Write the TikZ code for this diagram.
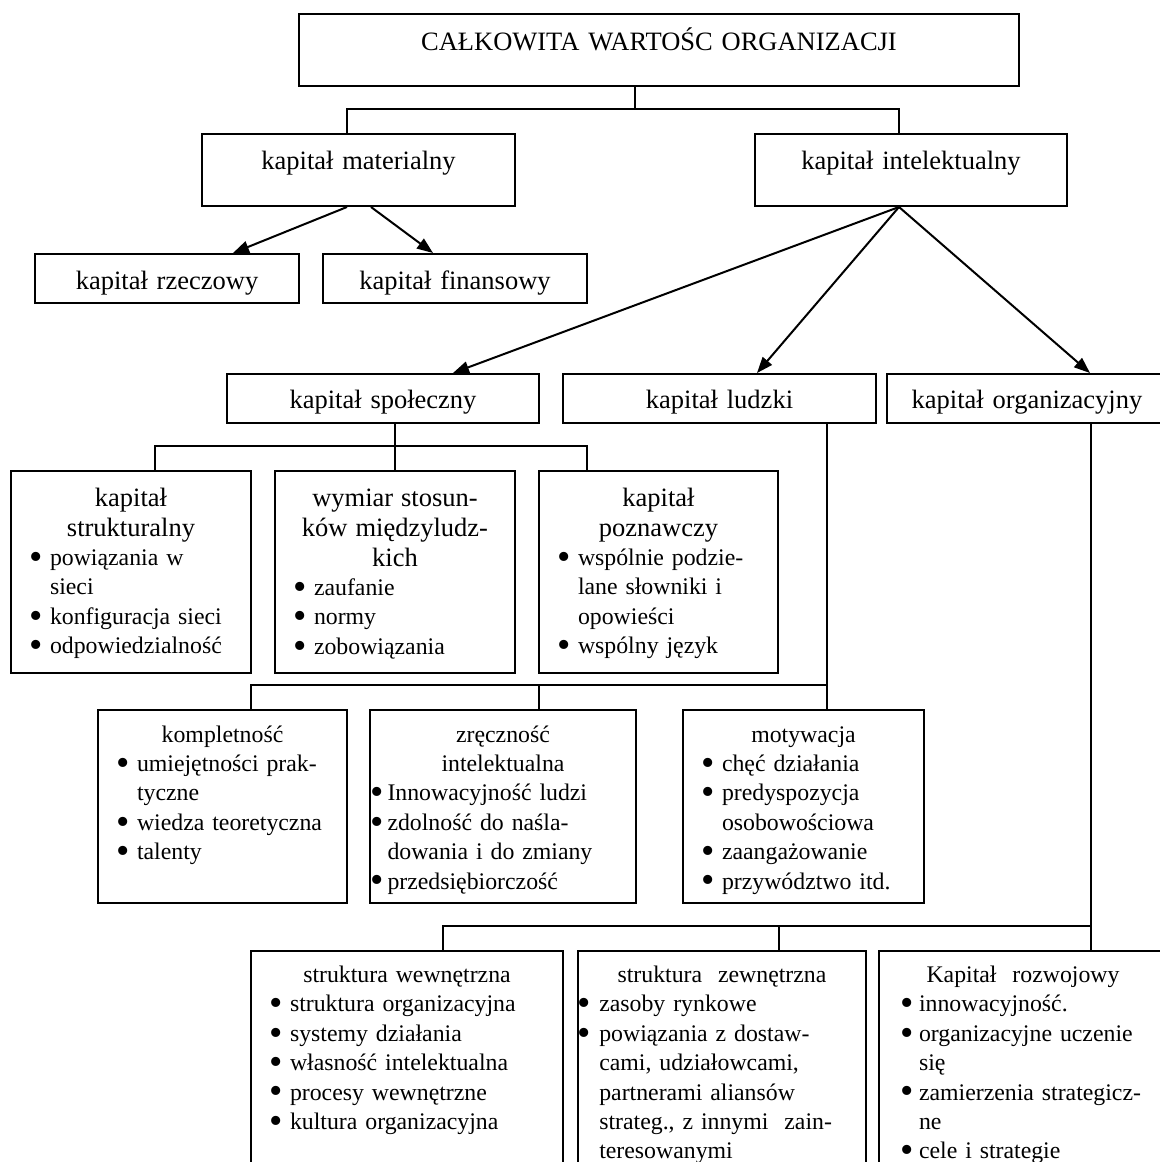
\documentclass[tikz,border=0pt]{standalone}
\usepackage{fontspec}
\setmainfont{Liberation Serif}
\usetikzlibrary{arrows.meta}

% two text sizes used in the chart
\newcommand{\duzy}{\fontsize{13.25pt}{15pt}\selectfont}
\newcommand{\maly}{\fontsize{11.9pt}{14.7pt}\selectfont}

% bullet item: bullet offset and hanging indent
\newlength\pktb \newlength\pktt
\setlength\pktb{9.3pt}\setlength\pktt{19.5pt}
\newcommand{\pkt}{\par\raggedright\hangindent=\pktt\hangafter=1\noindent
  \makebox[\pktt][l]{\hspace{\pktb}\raisebox{-0.16em}{\scalebox{1.6}{\textbullet}}}\ignorespaces}

\begin{document}
\begin{tikzpicture}[x=0.5pt,y=-0.5pt,
    box/.style={draw,line width=1pt,inner sep=0pt,anchor=north,font=\maly,
      text height=16pt,execute at begin node=\centering},
    duzy/.style={font=\duzy,text height=17.5pt},
    wc/.style 2 args={execute at begin node={\setlength\pktb{#1}\setlength\pktt{#2}}},
    lacz/.style={line width=1pt},
    strz/.style={line width=1pt,-{Triangle[length=8pt,width=6pt]}}]
  \useasboundingbox (0,0) rectangle (1160,1162);
  \clip (0,0) rectangle (1160,1162);

  % top levels
  \node[box,duzy,text width=360pt,text height=18.25pt,text depth=17.75pt] (top) at (659,13) {CAŁKOWITA WARTOŚC ORGANIZACJI};
  \node[box,duzy,text width=156.5pt,text depth=18.5pt] (mat) at (358.5,133) {kapitał materialny};
  \node[box,duzy,text width=156pt,text depth=18.5pt] (int) at (911,133) {kapitał intelektualny};
  \node[box,duzy,text width=132pt,text depth=7pt] (rzecz) at (167,253) {kapitał rzeczowy};
  \node[box,duzy,text width=132pt,text depth=7pt] (fin) at (455,253) {kapitał finansowy};
  \node[box,duzy,text width=156pt,text height=17pt,text depth=7.5pt] (spol) at (383,373) {kapitał społeczny};
  \node[box,duzy,text width=156.5pt,text height=17pt,text depth=7.5pt] (ludz) at (719.5,373) {kapitał ludzki};
  \node[box,duzy,text width=140pt,text height=17pt,text depth=7.5pt] (org) at (1027,373) {kapitał organizacyjny};

  % kapital spoleczny
  \node[box,text width=120pt,text height=17.5pt,text depth=83.5pt] (struk) at (131,470)
    {{\duzy kapitał\\strukturalny\par}
     \pkt powiązania w\newline sieci
     \pkt konfiguracja sieci
     \pkt odpowiedzialność\par};
  \node[box,text width=120pt,text height=17.5pt,text depth=83.5pt] (wym) at (395,470)
    {{\duzy wymiar stosun-\\ków międzyludz-\\kich\par}
     \pkt zaufanie
     \pkt normy
     \pkt zobowiązania\par};
  \node[box,text width=119.5pt,text height=17.5pt,text depth=83.5pt] (pozn) at (658.5,470)
    {{\duzy kapitał\\poznawczy\par}
     \pkt wspólnie podzie-\newline lane słowniki i\newline opowieści
     \pkt wspólny język\par};

  % kapital ludzki
  \node[box,text width=124.5pt,text depth=80.5pt] (kompl) at (222.5,709)
    {kompletność
     \pkt umiejętności prak-\newline tyczne
     \pkt wiedza teoretyczna
     \pkt talenty\par};
  \node[box,wc={0pt}{8.75pt},text width=133pt,text depth=80.5pt] (zrecz) at (503,709)
    {zręczność\\intelektualna
     \pkt Innowacyjność ludzi
     \pkt zdolność do naśla-\newline dowania i do zmiany
     \pkt przedsiębiorczość\par};
  \node[box,text width=120.5pt,text depth=80.5pt] (motyw) at (803.5,709)
    {motywacja
     \pkt chęć działania
     \pkt predyspozycja\newline osobowościowa
     \pkt zaangażowanie
     \pkt przywództwo itd.\par};

  % kapital organizacyjny
  \node[box,text width=156pt,text height=15.75pt,text depth=134.25pt] (wewn) at (407,950)
    {struktura wewnętrzna
     \pkt struktura organizacyjna
     \pkt systemy działania
     \pkt własność intelektualna
     \pkt procesy wewnętrzne
     \pkt kultura organizacyjna\par};
  \node[box,wc={-0.5pt}{10.65pt},text width=144pt,text height=15.75pt,text depth=134.25pt] (zewn) at (722,950)
    {struktura\ \ zewnętrzna
     \pkt zasoby rynkowe
     \pkt powiązania z dostaw-\newline cami, udziałowcami,\newline partnerami aliansów\newline
       strateg., z innymi\ \ zain-\newline teresowanymi\par};
  \node[box,wc={10.8pt}{20pt},text width=144pt,text height=15.75pt,text depth=134.25pt] (rozw) at (1023,950)
    {Kapitał\ \ rozwojowy
     \pkt innowacyjność.
     \pkt organizacyjne uczenie\newline się
     \pkt zamierzenia strategicz-\newline ne
     \pkt cele i strategie\par};

  % connectors
  \coordinate (ct) at (635,109);
  \draw[lacz] ([xshift=-12pt]top.south) -- (ct);
  \draw[lacz] ([xshift=-5.75pt]mat.north) |- (ct) -| ([xshift=-6pt]int.north);

  \draw[strz] ([xshift=-5.75pt]mat.south) -- ([xshift=33pt]rzecz.north);
  \draw[strz] ([xshift=6.25pt]mat.south) -- ([xshift=-11pt]fin.north);
  \draw[strz] ([xshift=-6pt]int.south) -- ([xshift=35pt]spol.north);
  \draw[strz] ([xshift=-6pt]int.south) -- ([xshift=18.75pt]ludz.north);
  \draw[strz] ([xshift=-6pt]int.south) -- ([xshift=31.5pt]org.north);

  \coordinate (cs) at (395,446);
  \draw[lacz] ([xshift=6pt]spol.south) -- (wym.north);
  \draw[lacz] ([xshift=12pt]struk.north) |- (cs) -| ([xshift=-35.75pt]pozn.north);

  \coordinate (cl) at (827,685);
  \draw[lacz] ([xshift=53.75pt]ludz.south) -- ([xshift=11.75pt]motyw.north);
  \draw[lacz] ([xshift=14.25pt]kompl.north) |- (cl);
  \draw[lacz] ([xshift=18pt]zrecz.north) |- (cl);

  \coordinate (co) at (1091,926);
  \draw[lacz] ([xshift=32pt]org.south) -- ([xshift=34pt]rozw.north);
  \draw[lacz] ([xshift=18pt]wewn.north) |- (co);
  \draw[lacz] ([xshift=28.5pt]zewn.north) |- (co);
\end{tikzpicture}
\end{document}
